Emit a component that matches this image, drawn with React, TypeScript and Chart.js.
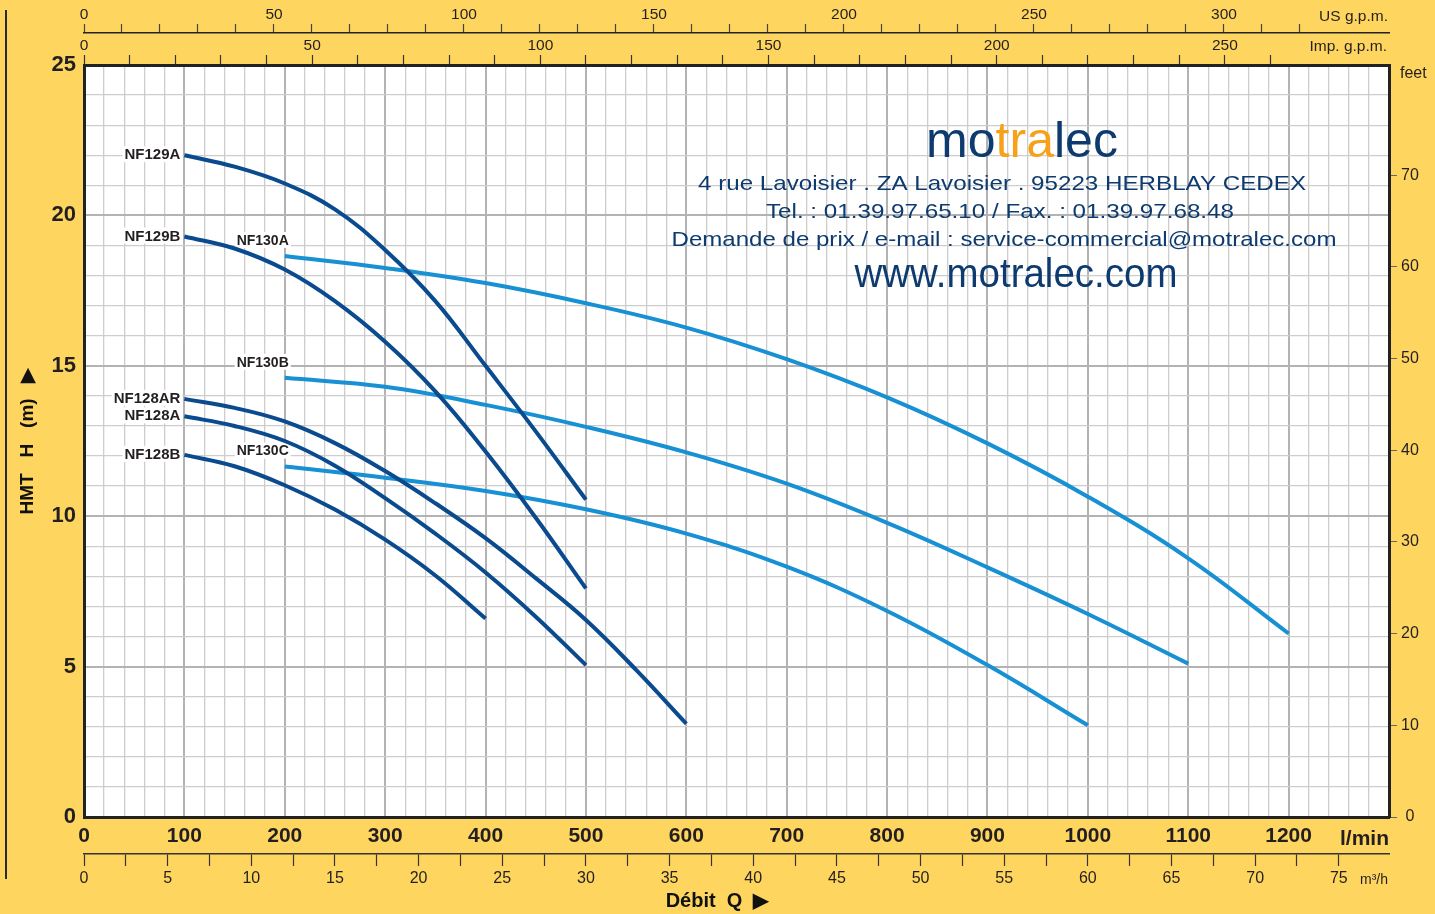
import React, { useEffect, useRef } from 'react';
import { Chart, registerables } from 'chart.js';

Chart.register(...registerables);

// ---- Data (flow Q in l/min, head H in m) ----
const Q_NF129A = [100, 150, 200, 250, 300, 350, 400, 450, 500];
const H_NF129A = [22.0, 21.62, 21.06, 20.2, 18.85, 17.15, 15.0, 12.82, 10.55];
const Q_NF129B = [100, 150, 200, 250, 300, 350, 400, 450, 500];
const H_NF129B = [19.3, 18.9, 18.2, 17.15, 15.8, 14.15, 12.15, 9.95, 7.6];
const Q_NF128AR = [100, 150, 200, 250, 300, 350, 400, 450, 500, 550, 600];
const H_NF128AR = [13.9, 13.6, 13.15, 12.43, 11.5, 10.43, 9.27, 7.94, 6.55, 4.89, 3.1];
const Q_NF128A = [100, 150, 200, 250, 300, 350, 400, 450, 500];
const H_NF128A = [13.32, 13.0, 12.5, 11.68, 10.6, 9.42, 8.13, 6.66, 5.05];
const Q_NF128B = [100, 150, 200, 250, 300, 350, 400];
const H_NF128B = [12.04, 11.66, 11.03, 10.22, 9.22, 8.03, 6.6];
const Q_NF130A = [200, 300, 400, 500, 600, 700, 800, 900, 1000, 1100, 1200];
const H_NF130A = [18.65, 18.25, 17.75, 17.08, 16.27, 15.22, 13.95, 12.42, 10.65, 8.6, 6.1];
const Q_NF130B = [200, 300, 400, 500, 600, 700, 800, 900, 1000, 1100];
const H_NF130B = [14.6, 14.3, 13.7, 12.97, 12.12, 11.08, 9.78, 8.3, 6.75, 5.1];
const Q_NF130C = [200, 300, 400, 500, 600, 700, 800, 900, 1000];
const H_NF130C = [11.65, 11.28, 10.84, 10.23, 9.42, 8.32, 6.85, 5.05, 3.05];

const SERIES_NAMES = ['NF129A', 'NF129B', 'NF128AR', 'NF128A', 'NF128B', 'NF130A', 'NF130B', 'NF130C'];
const SERIES_Q = [Q_NF129A, Q_NF129B, Q_NF128AR, Q_NF128A, Q_NF128B, Q_NF130A, Q_NF130B, Q_NF130C];
const SERIES_H = [H_NF129A, H_NF129B, H_NF128AR, H_NF128A, H_NF128B, H_NF130A, H_NF130B, H_NF130C];

// ---- Tick labels ----
const LMIN_LABELS = [0, 100, 200, 300, 400, 500, 600, 700, 800, 900, 1000, 1100, 1200];
const HEAD_LABELS = [0, 5, 10, 15, 20, 25];
const FEET_LABELS = [0, 10, 20, 30, 40, 50, 60, 70];
const USGPM_LABELS = [0, 50, 100, 150, 200, 250, 300];
const IMPGPM_LABELS = [0, 50, 100, 150, 200, 250];
const M3H_LABELS = [0, 5, 10, 15, 20, 25, 30, 35, 40, 45, 50, 55, 60, 65, 70, 75];

const Q_MAX = 1300;
const H_MAX = 25;
const L_PER_USGAL = 3.78541;
const L_PER_IMPGAL = 4.54609;
const M_PER_FT = 0.3048;

// ---- Header text ----
const BRAND = ['mo', 'tra', 'lec'];
const ADDRESS = [
  '4 rue Lavoisier . ZA Lavoisier . 95223 HERBLAY CEDEX',
  'Tel. : 01.39.97.65.10 / Fax. : 01.39.97.68.48',
  'Demande de prix / e-mail : service-commercial@motralec.com',
];
const WEBSITE = 'www.motralec.com';

// ---- Styles ----
const FONT = "'Liberation Sans', Arial, Helvetica, sans-serif";
const YELLOW = '#FED55E';
const DARK = '#0A4A8E';
const LIGHT = '#1790D4';
const NAVY = '#0E3B6F';
const ORANGE = '#F7A11A';
const INK = '#231f20';
const GRID_MINOR = '#cdcdcd';
const GRID_MAJOR = '#b3b3b3';

function fitText(ctx: CanvasRenderingContext2D, text: string, cx: number, baseline: number, size: number, targetW: number, color: string) {
  ctx.save();
  ctx.font = `normal ${size}px ${FONT}`;
  const w = ctx.measureText(text).width;
  ctx.translate(cx, baseline);
  ctx.scale(targetW / w, 1);
  ctx.textAlign = 'center';
  ctx.textBaseline = 'alphabetic';
  ctx.fillStyle = color;
  ctx.fillText(text, 0, 0);
  ctx.restore();
}

const decorPlugin = {
  id: 'decor',
  beforeDraw(chart: any) {
    const { ctx, chartArea: a, width, height } = chart;
    ctx.save();
    ctx.fillStyle = YELLOW;
    ctx.fillRect(0, 0, width, height);
    ctx.fillStyle = '#ffffff';
    ctx.fillRect(a.left, a.top, a.right - a.left, a.bottom - a.top);
    ctx.strokeStyle = '#2a2a2a';
    ctx.lineWidth = 2;
    ctx.beginPath();
    ctx.moveTo(6, 10);
    ctx.lineTo(6, 879);
    ctx.stroke();
    ctx.restore();
  },
  beforeDatasetsDraw(chart: any) {
    const { ctx } = chart;
    // curve labels (white boxes under the curves)
    chart.data.datasets.forEach((ds: any, i: number) => {
      const meta = chart.getDatasetMeta(i);
      const p = meta.data[0];
      if (!p) return;
      const name = SERIES_NAMES[i];
      const startsLeft = SERIES_Q[i][0] === 100;
      const size = startsLeft ? 15 : 14;
      ctx.save();
      ctx.font = `bold ${size}px ${FONT}`;
      const w = ctx.measureText(name).width;
      const right = startsLeft ? p.x - 4 : p.x + 4;
      const cy = startsLeft ? p.y - 1 : p.y - 16;
      ctx.fillStyle = '#ffffff';
      ctx.fillRect(right - w - 2, cy - 8, w + 4, 16);
      ctx.fillStyle = INK;
      ctx.textAlign = 'right';
      ctx.textBaseline = 'middle';
      ctx.fillText(name, right, cy + 1);
      ctx.restore();
    });
  },
  afterDatasetsDraw(chart: any) {
    const { ctx } = chart;
    // brand
    ctx.save();
    ctx.font = `normal 50px ${FONT}`;
    const widths = BRAND.map((s) => ctx.measureText(s).width);
    const total = widths.reduce((p, c) => p + c, 0);
    const sx = 192 / total;
    ctx.translate(1022 - 96, 157);
    ctx.scale(sx, 1);
    ctx.textBaseline = 'alphabetic';
    ctx.textAlign = 'left';
    let x = 0;
    BRAND.forEach((s, i) => {
      ctx.fillStyle = i === 1 ? ORANGE : NAVY;
      ctx.fillText(s, x, 0);
      x += widths[i];
    });
    ctx.restore();
    fitText(ctx, ADDRESS[0], 1002, 190, 21, 608, NAVY);
    fitText(ctx, ADDRESS[1], 1000, 218, 21, 468, NAVY);
    fitText(ctx, ADDRESS[2], 1004, 246, 21, 665, NAVY);
    fitText(ctx, WEBSITE, 1016, 287, 41, 323, NAVY);
  },
  afterDraw(chart: any) {
    const { ctx, chartArea: a } = chart;
    ctx.save();
    ctx.fillStyle = INK;
    ctx.textBaseline = 'middle';
    ctx.textAlign = 'right';
    ctx.font = `normal 15.5px ${FONT}`;
    ctx.fillText('US g.p.m.', a.right - 1, 17);
    ctx.fillText('Imp. g.p.m.', a.right - 2, 47);
    ctx.font = `bold 21px ${FONT}`;
    ctx.fillText('l/min', a.right, 839);
    ctx.font = `normal 14px ${FONT}`;
    ctx.fillText('m³/h', a.right - 1, 880);
    ctx.textAlign = 'left';
    ctx.font = `normal 16px ${FONT}`;
    ctx.fillText('feet', a.right + 11, 74);
    ctx.restore();
  },
};

const gridColor = (step: number) => (c: any) => (c.tick && Math.abs(c.tick.value % step) < 1e-6 ? GRID_MAJOR : GRID_MINOR);
const gridWidth = (step: number) => (c: any) => (c.tick && Math.abs(c.tick.value % step) < 1e-6 ? 2 : 1.3);
const labelIf = (list: number[]) => (v: any) => (list.some((t) => Math.abs(t - Number(v)) < 1e-6) ? String(v) : '');
const keepUpTo = (limit: number) => (s: any) => {
  s.ticks = s.ticks.filter((t: any) => t.value <= limit + 1e-6);
};

export default function App() {
  const ref = useRef<HTMLCanvasElement>(null);

  useEffect(() => {
    document.body.style.margin = '0';
    const datasets = SERIES_NAMES.map((name, i) => ({
      label: name,
      data: SERIES_Q[i].map((q, j) => ({ x: q, y: SERIES_H[i][j] })),
      borderColor: name.startsWith('NF130') ? LIGHT : DARK,
      borderWidth: 4,
      pointRadius: 0,
      fill: false,
      tension: 0.4,
      xAxisID: 'x',
      yAxisID: 'y',
    }));

    const chart = new Chart(ref.current as HTMLCanvasElement, {
      type: 'line',
      data: { datasets },
      plugins: [decorPlugin],
      options: {
        responsive: false,
        animation: false,
        events: [],
        layout: { padding: 0 },
        plugins: { legend: { display: false }, tooltip: { enabled: false } },
        scales: {
          x: {
            type: 'linear',
            position: 'bottom',
            weight: 0,
            min: 0,
            max: Q_MAX,
            ticks: {
              stepSize: 20,
              autoSkip: false,
              maxRotation: 0,
              minRotation: 0,
              maxTicksLimit: 1000,
              padding: 7,
              color: INK,
              font: { family: FONT, size: 21, weight: 'bold' },
              callback: labelIf(LMIN_LABELS),
            },
            grid: { drawTicks: false, color: gridColor(100), lineWidth: gridWidth(100) },
            border: { color: '#222', width: 3, z: 1 },
            afterFit: (s: any) => { s.height = 37; },
          },
          xm3: {
            type: 'linear',
            position: 'bottom',
            weight: 1,
            min: 0,
            max: (Q_MAX * 60) / 1000,
            afterBuildTicks: keepUpTo(75),
            ticks: {
              stepSize: 2.5,
              autoSkip: false,
              maxRotation: 0,
              minRotation: 0,
              maxTicksLimit: 1000,
              padding: 3,
              color: INK,
              font: { family: FONT, size: 16 },
              callback: labelIf(M3H_LABELS),
            },
            grid: { drawOnChartArea: false, drawTicks: true, tickLength: 12, tickColor: '#333', tickWidth: 1.2 },
            border: { color: '#333', width: 1.5 },
            title: {
              display: true,
              text: 'Débit  Q  ▶       ',
              color: '#111',
              font: { family: FONT, size: 20, weight: 'bold', lineHeight: 1.2 },
              padding: { top: 0, bottom: 1 },
            },
            afterFit: (s: any) => { s.height = 60; },
          },
          ximp: {
            type: 'linear',
            position: 'top',
            weight: 0,
            min: 0,
            max: Q_MAX / L_PER_IMPGAL,
            afterBuildTicks: keepUpTo(260),
            ticks: {
              stepSize: 10,
              autoSkip: false,
              maxRotation: 0,
              minRotation: 0,
              maxTicksLimit: 1000,
              padding: 0,
              color: INK,
              font: { family: FONT, size: 15.5 },
              callback: labelIf(IMPGPM_LABELS),
            },
            grid: { drawOnChartArea: false, drawTicks: true, tickLength: 10, tickColor: '#333', tickWidth: 1.2 },
            border: { color: '#222', width: 3, z: 1 },
            afterFit: (s: any) => { s.height = 32; },
          },
          xus: {
            type: 'linear',
            position: 'top',
            weight: 1,
            min: 0,
            max: Q_MAX / L_PER_USGAL,
            afterBuildTicks: keepUpTo(320),
            ticks: {
              stepSize: 10,
              autoSkip: false,
              maxRotation: 0,
              minRotation: 0,
              maxTicksLimit: 1000,
              padding: 0,
              color: INK,
              font: { family: FONT, size: 15.5 },
              callback: labelIf(USGPM_LABELS),
            },
            grid: { drawOnChartArea: false, drawTicks: true, tickLength: 9, tickColor: '#444', tickWidth: 1.2 },
            border: { color: '#222', width: 1.5 },
            afterFit: (s: any) => { s.height = 33; },
          },
          y: {
            type: 'linear',
            position: 'left',
            weight: 0,
            min: 0,
            max: H_MAX,
            ticks: {
              stepSize: 1,
              autoSkip: false,
              maxTicksLimit: 1000,
              padding: 8,
              color: INK,
              font: { family: FONT, size: 22, weight: 'bold' },
              callback: labelIf(HEAD_LABELS),
            },
            grid: { drawTicks: false, color: gridColor(5), lineWidth: gridWidth(5) },
            border: { color: '#222', width: 3, z: 1 },
            title: {
              display: true,
              text: 'HMT   H   (m)   ▶',
              color: '#111',
              font: { family: FONT, size: 19, weight: 'bold', lineHeight: 1.2 },
              padding: { top: 16, bottom: 0 },
            },
            afterFit: (s: any) => { s.width = 84; },
          },
          yft: {
            type: 'linear',
            position: 'right',
            weight: 0,
            min: 0,
            max: H_MAX / M_PER_FT,
            afterBuildTicks: keepUpTo(80),
            ticks: {
              stepSize: 10,
              autoSkip: false,
              maxTicksLimit: 1000,
              padding: 4,
              crossAlign: 'center',
              color: INK,
              font: { family: FONT, size: 16 },
              callback: labelIf(FEET_LABELS),
            },
            grid: { drawOnChartArea: false, drawTicks: true, tickLength: 8, tickColor: '#666', tickWidth: 1 },
            border: { color: '#222', width: 3, z: 1 },
            afterFit: (s: any) => { s.width = 46; },
          },
        },
      } as any,
    });
    return () => chart.destroy();
  }, []);

  return (
    <div style={{ position: 'fixed', left: 0, top: 0, width: 1435, height: 914, background: YELLOW }}>
      <canvas ref={ref} width={1435} height={914} style={{ display: 'block', width: 1435, height: 914 }} />
    </div>
  );
}
